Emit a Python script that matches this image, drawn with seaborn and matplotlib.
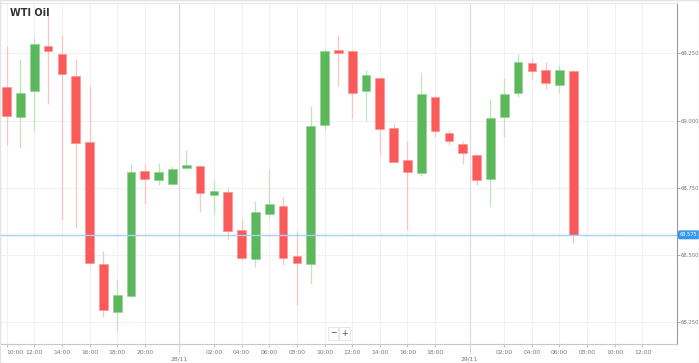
import matplotlib
matplotlib.use("Agg")
import matplotlib.pyplot as plt
import matplotlib.transforms as mtransforms
from matplotlib.patches import Rectangle
import seaborn as sns

# hourly candles, one slot per traded hour
opens = [69.124, 69.014, 69.109, 69.277, 69.249, 69.167, 68.921, 68.466, 68.289, 68.347,
         68.814, 68.779, 68.764, 68.823, 68.831, 68.723, 68.734, 68.594, 68.484, 68.654,
         68.683, 68.495, 68.466, 68.982, 69.263, 69.259, 69.109, 69.158, 68.973, 68.853,
         68.804, 69.089, 68.955, 68.913, 68.873, 68.783, 69.013, 69.104, 69.213, 69.188,
         69.133, 69.183]
highs = [69.277, 69.228, 69.308, 69.396, 69.319, 69.228, 69.128, 68.516, 68.410, 68.838,
         68.840, 68.843, 68.831, 68.891, 68.832, 68.779, 68.750, 68.635, 68.701, 68.819,
         68.715, 68.591, 69.054, 69.265, 69.319, 69.262, 69.188, 69.160, 68.990, 68.924,
         69.180, 69.090, 68.965, 68.924, 68.874, 69.080, 69.157, 69.247, 69.228, 69.217,
         69.208, 69.188]
lows = [68.909, 68.897, 68.961, 69.060, 68.630, 68.599, 68.466, 68.271, 68.218, 68.345,
        68.690, 68.760, 68.763, 68.822, 68.660, 68.651, 68.561, 68.482, 68.457, 68.640,
        68.462, 68.313, 68.391, 68.965, 69.130, 69.009, 68.999, 68.871, 68.845, 68.593,
        68.794, 68.940, 68.909, 68.838, 68.760, 68.680, 68.940, 69.089, 69.153, 69.118,
        69.101, 68.546]
closes = [69.018, 69.104, 69.283, 69.259, 69.173, 68.918, 68.469, 68.296, 68.350, 68.809,
          68.783, 68.809, 68.819, 68.836, 68.730, 68.739, 68.591, 68.489, 68.659, 68.690,
          68.490, 68.469, 68.979, 69.259, 69.252, 69.101, 69.168, 68.967, 68.847, 68.808,
          69.098, 68.960, 68.924, 68.879, 68.779, 69.008, 69.098, 69.217, 69.183, 69.138,
          69.188, 68.575]
last_price = 68.575

time_pos = [0, 2, 4, 6, 8, 10, 15, 17, 19, 21, 23, 25, 27, 29, 31, 36, 38, 40, 42, 44, 46]
time_labels = ["10:00", "12:00", "14:00", "16:00", "18:00", "20:00", "02:00", "04:00",
               "06:00", "08:00", "10:00", "12:00", "14:00", "16:00", "18:00", "02:00",
               "04:00", "06:00", "08:00", "10:00", "12:00"]
day_pos = [12.5, 33.5]
day_labels = ["28/11", "29/11"]
price_ticks = [68.25, 68.5, 68.75, 69.0, 69.25]

sns.set_theme(style="white")
plt.rcParams['font.family'] = ['DejaVu Sans']

up_col = "#5cb85c"
down_col = "#fa5a5a"
up_wick = "#c2e4be"
down_wick = "#fcc4c4"

fig = plt.figure(figsize=(6.99, 3.63), dpi=100)
ax = fig.add_axes([0.0, 0.0523, 0.9685, 0.9394])

# grid
for p in price_ticks:
    ax.axhline(p, color="#f1f1f1", lw=0.8, zorder=0)
for t in time_pos:
    ax.axvline(t, color="#f1f1f1", lw=0.8, zorder=0)
for d in day_pos:
    ax.axvline(d, color="#dcdcdc", lw=0.9, zorder=0)

x = list(range(len(opens)))
for i in x:
    o, h, l, c = opens[i], highs[i], lows[i], closes[i]
    up = c >= o
    ax.vlines(i, l, h, color=up_wick if up else down_wick, lw=0.9, zorder=1)
    lo, hi = min(o, c), max(o, c)
    ax.bar(i, max(hi - lo, 0.004), bottom=lo, width=0.63,
           color=up_col if up else down_col,
           edgecolor="#8fd08a" if up else "#ff8c8c", linewidth=0.4, zorder=2)

ax.axhline(last_price, color="#a6d2f4", lw=1.0, zorder=3)

ax.set_xlim(-0.48, 48.5)
ax.set_ylim(68.169, 69.437)

# y axis on the right
ax.yaxis.tick_right()
ax.set_yticks(price_ticks)
ax.set_yticklabels(["%.3f" % p for p in price_ticks])
ax.tick_params(axis="y", which="major", length=2, width=0.5, color="#888888",
               labelsize=3.8, labelcolor="#777777", pad=0.8, right=True, left=False)

# x axis: hours and days
ax.set_xticks(time_pos)
ax.set_xticklabels(time_labels)
ax.set_xticks(day_pos, minor=True)
ax.set_xticklabels(day_labels, minor=True)
ax.tick_params(axis="x", which="major", length=2.5, width=0.5, color="#aaaaaa",
               labelsize=4.3, labelcolor="#777777", pad=1.5, bottom=True)
ax.tick_params(axis="x", which="minor", length=0, labelsize=4.3,
               labelcolor="#777777", pad=9, bottom=True)
ax.get_xticklabels()[0].set_horizontalalignment("left")
trans = mtransforms.blended_transform_factory(ax.transData, ax.transAxes)
for d in day_pos:
    ax.plot([d, d], [0, -0.025], transform=trans, color="#999999", lw=0.6,
            ls=(0, (1, 1)), clip_on=False)

for side in ["left", "top"]:
    ax.spines[side].set_color("#e6e6e6")
    ax.spines[side].set_linewidth(0.8)
ax.spines["bottom"].set_color("#c8c8c8")
ax.spines["bottom"].set_linewidth(0.8)
ax.spines["right"].set_color("#999999")
ax.spines["right"].set_linewidth(0.8)

ax.text(0.015, 0.986, "WTI Oil", transform=ax.transAxes, fontsize=7,
        fontweight="bold", color="#333333", va="top", ha="left")

# last price marker on the axis
ax.annotate("%.3f" % last_price, xy=(1.0, last_price),
            xycoords=("axes fraction", "data"), xytext=(2.2, 0),
            textcoords="offset points", fontsize=3.7, color="white",
            va="center", ha="left",
            bbox=dict(boxstyle="round,pad=0.25,rounding_size=0.2",
                      fc="#3399ee", ec="#3399ee"), annotation_clip=False)

# zoom buttons
for xb, sym in [(0.492, "\u2212"), (0.509, "+")]:
    ax.text(xb, 0.032, sym, transform=ax.transAxes, fontsize=5.5, color="#444444",
            ha="center", va="center",
            bbox=dict(boxstyle="square,pad=0.25", fc="white", ec="#dddddd", lw=0.5))

fig.patches.append(Rectangle((0, 0), 1, 1, transform=fig.transFigure, fill=False,
                             ec="#e3e3e3", lw=1.0))

fig.savefig("out.png", dpi=100)
